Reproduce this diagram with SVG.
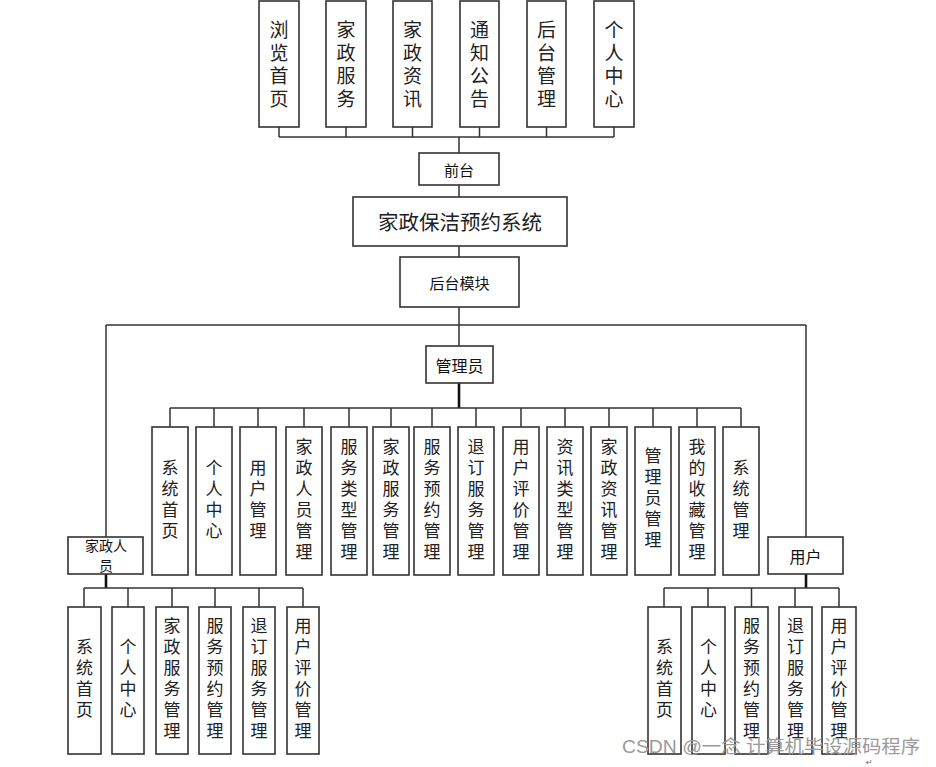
<svg xmlns="http://www.w3.org/2000/svg" width="936" height="767" viewBox="0 0 936 767">
<style>
.box{fill:#fff;stroke:#333;stroke-width:1.6}
.ln{fill:none;stroke:#333;stroke-width:1.5}
.thk{fill:none;stroke:#111;stroke-width:2.6}
.v{font-family:"Noto Sans CJK SC","Noto Sans CJK JP",sans-serif;font-size:17px;letter-spacing:4px;fill:#222;text-anchor:middle;writing-mode:vertical-rl}
.vt{font-size:19px}
.h{font-family:"Noto Sans CJK SC",sans-serif;font-size:15px;fill:#111;text-anchor:middle;dominant-baseline:central}
.main{font-family:"Noto Sans CJK SC",sans-serif;font-size:20.5px;fill:#222;text-anchor:middle;dominant-baseline:central}
.wm{font-family:"Liberation Sans","Noto Sans CJK SC",sans-serif;font-size:18px;fill:#9a9a9a;dominant-baseline:central}
</style>
<rect width="936" height="767" fill="#fff"/>
<g id="connectors">
<path class="ln" d="M279 127V137M346 127V137M412.5 127V137M479.5 127V137M546.5 127V137M614 127V137M279 137H614M459 137V153M459 185V197M459 246V257M459 307V325M106 325H806M459 325V346"/>
<path class="thk" d="M459 383V408"/>
<path class="ln" d="M170 408H741M170 408V427M214 408V427M258 408V427M304 408V427M349 408V427M391 408V427M432 408V427M476 408V427M521 408V427M565 408V427M609 408V427M653 408V427M697 408V427M741 408V427"/>
<path class="ln" d="M106 325V537M806 325V537"/>
<path class="thk" d="M106 574V588M806 574V588"/>
<path class="ln" d="M84 588H303M84 588V607M128 588V607M172 588V607M215 588V607M259 588V607M303 588V607"/>
<path class="ln" d="M664 588H839M664 588V607M708 588V607M751.5 588V607M795 588V607M839 588V607"/>
</g>

<g id="n_liulan"><rect class="box" x="259" y="1" width="40" height="126"/><text class="v vt" x="279" y="66.5">浏览首页</text></g>
<g id="n_jzfw"><rect class="box" x="326" y="1" width="40" height="126"/><text class="v vt" x="346" y="66.5">家政服务</text></g>
<g id="n_jzzx"><rect class="box" x="393" y="1" width="39" height="126"/><text class="v vt" x="412.5" y="66.5">家政资讯</text></g>
<g id="n_tzgg"><rect class="box" x="460" y="1" width="39" height="126"/><text class="v vt" x="479.5" y="66.5">通知公告</text></g>
<g id="n_htgl"><rect class="box" x="527" y="1" width="39" height="126"/><text class="v vt" x="546.5" y="66.5">后台管理</text></g>
<g id="n_grzx"><rect class="box" x="594" y="1" width="40" height="126"/><text class="v vt" x="614" y="66.5">个人中心</text></g>

<g id="n_qiantai"><rect class="box" x="419" y="153" width="80" height="32"/><text class="h" x="459" y="169">前台</text></g>
<g id="n_system"><rect class="box" x="353" y="197" width="214" height="49"/><text class="main" x="460" y="221">家政保洁预约系统</text></g>
<g id="n_houtai"><rect class="box" x="400" y="257" width="119" height="50"/><text class="h" x="459.5" y="282">后台模块</text></g>
<g id="n_admin"><rect class="box" x="426" y="346" width="67" height="37"/><text class="h" x="459.5" y="364.5" style="font-size:16px">管理员</text></g>

<g id="a1"><rect class="box" x="152" y="427" width="36" height="148"/><text class="v" x="170" y="501.5">系统首页</text></g>
<g id="a2"><rect class="box" x="196" y="427" width="36" height="148"/><text class="v" x="214" y="501.5">个人中心</text></g>
<g id="a3"><rect class="box" x="240" y="427" width="36" height="148"/><text class="v" x="258" y="501.5">用户管理</text></g>
<g id="a4"><rect class="box" x="286" y="427" width="36" height="148"/><text class="v" x="304" y="501.5">家政人员管理</text></g>
<g id="a5"><rect class="box" x="331" y="427" width="36" height="148"/><text class="v" x="349" y="501.5">服务类型管理</text></g>
<g id="a6"><rect class="box" x="373" y="427" width="36" height="148"/><text class="v" x="391" y="501.5">家政服务管理</text></g>
<g id="a7"><rect class="box" x="414" y="427" width="36" height="148"/><text class="v" x="432" y="501.5">服务预约管理</text></g>
<g id="a8"><rect class="box" x="458" y="427" width="36" height="148"/><text class="v" x="476" y="501.5">退订服务管理</text></g>
<g id="a9"><rect class="box" x="503" y="427" width="36" height="148"/><text class="v" x="521" y="501.5">用户评价管理</text></g>
<g id="a10"><rect class="box" x="547" y="427" width="36" height="148"/><text class="v" x="565" y="501.5">资讯类型管理</text></g>
<g id="a11"><rect class="box" x="591" y="427" width="36" height="148"/><text class="v" x="609" y="501.5">家政资讯管理</text></g>
<g id="a12"><rect class="box" x="635" y="427" width="36" height="148"/><text class="v" x="653" y="500">管理员管理</text></g>
<g id="a13"><rect class="box" x="679" y="427" width="36" height="148"/><text class="v" x="697" y="501.5">我的收藏管理</text></g>
<g id="a14"><rect class="box" x="723" y="427" width="36" height="148"/><text class="v" x="741" y="501.5">系统管理</text></g>

<g id="n_jzry"><rect class="box" x="68" y="537" width="75" height="37"/><text class="h" style="font-size:14px"><tspan x="106" y="544.5">家政人</tspan><tspan x="106" y="565">员</tspan></text></g>
<g id="n_user"><rect class="box" x="768" y="537" width="75" height="37"/><text class="h" x="805.5" y="555.5" style="font-size:16px">用户</text></g>

<g id="s1"><rect class="box" x="68" y="607" width="33" height="147"/><text class="v" x="84.5" y="680.5">系统首页</text></g>
<g id="s2"><rect class="box" x="112" y="607" width="32" height="147"/><text class="v" x="128" y="680.5">个人中心</text></g>
<g id="s3"><rect class="box" x="156" y="607" width="32" height="147"/><text class="v" x="172" y="680.5">家政服务管理</text></g>
<g id="s4"><rect class="box" x="199" y="607" width="32" height="147"/><text class="v" x="215" y="680.5">服务预约管理</text></g>
<g id="s5"><rect class="box" x="243" y="607" width="32" height="147"/><text class="v" x="259" y="680.5">退订服务管理</text></g>
<g id="s6"><rect class="box" x="287" y="607" width="32" height="147"/><text class="v" x="303" y="680.5">用户评价管理</text></g>

<g id="u1"><rect class="box" x="648" y="607" width="33" height="147"/><text class="v" x="664.5" y="680.5">系统首页</text></g>
<g id="u2"><rect class="box" x="692" y="607" width="33" height="147"/><text class="v" x="708.5" y="680.5">个人中心</text></g>
<g id="u3"><rect class="box" x="735" y="607" width="33" height="147"/><text class="v" x="751.5" y="680.5">服务预约管理</text></g>
<g id="u4"><rect class="box" x="779" y="607" width="33" height="147"/><text class="v" x="795.5" y="680.5">退订服务管理</text></g>
<g id="u5"><rect class="box" x="822" y="607" width="34" height="147"/><text class="v" x="839" y="680.5">用户评价管理</text></g>

<text class="wm" x="622" y="746.5" textLength="298" lengthAdjust="spacingAndGlyphs">CSDN @一念 计算机毕设源码程序</text>
<text x="866" y="764.5" style="font-family:'DejaVu Sans',sans-serif;font-size:8px;fill:#666">↵</text>
</svg>
